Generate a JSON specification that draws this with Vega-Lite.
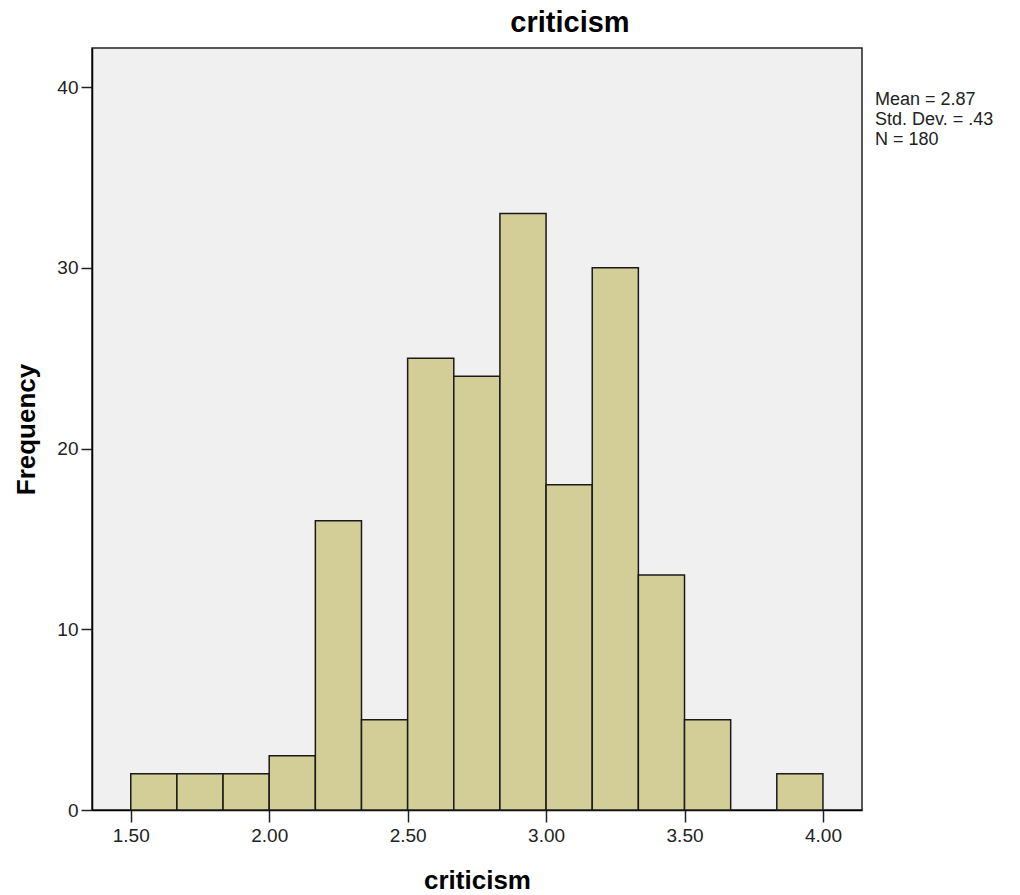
{
  "$schema": "https://vega.github.io/schema/vega-lite/v6.json",
  "width": 770,
  "height": 762,
  "autosize": {"type": "none"},
  "padding": {"left": 92, "top": 48, "right": 158, "bottom": 85},
  "background": "white",
  "title": {
    "text": "criticism",
    "font": "Liberation Sans",
    "fontSize": 29,
    "fontWeight": "bold",
    "color": "#000000",
    "anchor": "middle",
    "dx": 93,
    "offset": 10
  },
  "config": {
    "font": "Liberation Sans",
    "view": {"fill": "#f0f0f0", "stroke": "#222222", "strokeWidth": 1.5}
  },
  "layer": [
    {
      "data": {
        "values": [
          {"bin_start": 1.5, "bin_end": 1.6667, "count": 2},
          {"bin_start": 1.6667, "bin_end": 1.8333, "count": 2},
          {"bin_start": 1.8333, "bin_end": 2.0, "count": 2},
          {"bin_start": 2.0, "bin_end": 2.1667, "count": 3},
          {"bin_start": 2.1667, "bin_end": 2.3333, "count": 16},
          {"bin_start": 2.3333, "bin_end": 2.5, "count": 5},
          {"bin_start": 2.5, "bin_end": 2.6667, "count": 25},
          {"bin_start": 2.6667, "bin_end": 2.8333, "count": 24},
          {"bin_start": 2.8333, "bin_end": 3.0, "count": 33},
          {"bin_start": 3.0, "bin_end": 3.1667, "count": 18},
          {"bin_start": 3.1667, "bin_end": 3.3333, "count": 30},
          {"bin_start": 3.3333, "bin_end": 3.5, "count": 13},
          {"bin_start": 3.5, "bin_end": 3.6667, "count": 5},
          {"bin_start": 3.8333, "bin_end": 4.0, "count": 2}
        ]
      },
      "mark": {"type": "bar", "fill": "#d3ce97", "stroke": "#1a1a1a", "strokeWidth": 1.5},
      "encoding": {
        "x": {
          "field": "bin_start",
          "type": "quantitative",
          "scale": {"domain": [1.36, 4.141], "nice": false, "zero": false, "padding": 0},
          "axis": {
            "title": "criticism",
            "values": [1.5, 2, 2.5, 3, 3.5, 4],
            "format": ".2f",
            "grid": false,
            "domainColor": "#000000",
            "domainWidth": 1.5,
            "tickColor": "#222222",
            "tickWidth": 1.5,
            "tickSize": 12,
            "labelPadding": 4,
            "labelFontSize": 19,
            "labelColor": "#222222",
            "labelFont": "Liberation Sans",
            "titleFont": "Liberation Sans",
            "titleFontSize": 26,
            "titleFontWeight": "bold",
            "titleColor": "#000000",
            "titlePadding": 22
          }
        },
        "x2": {"field": "bin_end"},
        "y": {
          "field": "count",
          "type": "quantitative",
          "scale": {"domain": [0, 42.16], "nice": false, "padding": 0},
          "axis": {
            "title": "Frequency",
            "values": [0, 10, 20, 30, 40],
            "grid": false,
            "domainColor": "#000000",
            "domainWidth": 1.5,
            "tickColor": "#222222",
            "tickWidth": 1.5,
            "tickSize": 11,
            "labelPadding": 3,
            "labelFontSize": 19,
            "labelColor": "#222222",
            "labelFont": "Liberation Sans",
            "titleFont": "Liberation Sans",
            "titleFontSize": 26,
            "titleFontWeight": "bold",
            "titleColor": "#000000",
            "titlePadding": 17
          }
        },
        "y2": {"datum": 0}
      }
    },
    {
      "data": {"values": [{"stats": "Mean = 2.87|Std. Dev. = .43|N = 180"}]},
      "mark": {
        "type": "text",
        "align": "left",
        "baseline": "alphabetic",
        "lineBreak": "|",
        "lineHeight": 20,
        "fontSize": 18,
        "font": "Liberation Sans",
        "color": "#222222",
        "clip": false
      },
      "encoding": {
        "x": {"datum": 4.188, "type": "quantitative"},
        "y": {"datum": 39.0, "type": "quantitative"},
        "text": {"field": "stats", "type": "nominal"}
      }
    }
  ]
}
